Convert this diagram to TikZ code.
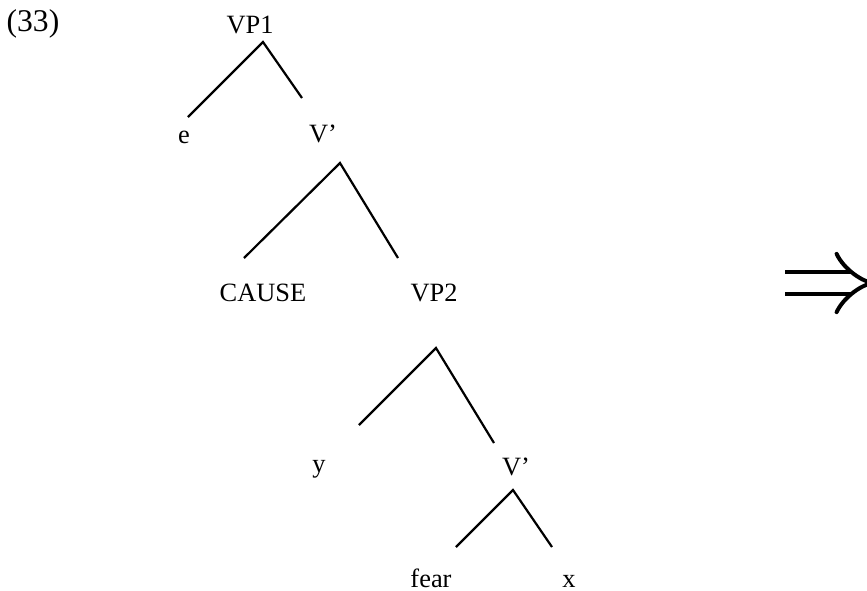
\documentclass[tikz,border=0pt]{standalone}
\usepackage{fontspec}
\setmainfont{Liberation Serif}
\usetikzlibrary{arrows.meta}

\begin{document}
\begin{tikzpicture}[x=0.5pt, y=-0.5pt,
    every node/.style={font=\fontsize{13.2}{16}\selectfont, anchor=base, inner sep=0pt},
    branch/.style={line width=1.1pt}]

  \useasboundingbox (0,0) rectangle (867,590);

  % Define coordinates for labels
  \node[font=\fontsize{15.8}{18}\selectfont] (num) at (33,31) {(33)};
  \node (VPa) at (250,33) {VP1};
  \node (e) at (184,143) {e};
  \node (Va) at (323,142) {V'};
  \node (cause) at (263,301) {CAUSE};
  \node (VPb) at (434,301) {VP2};
  \node (y) at (319,472) {y};
  \node (Vb) at (516,475) {V'};
  \node (fear) at (431,587) {fear};
  \node (x) at (569,587) {x};

  % Define end points of branches
  \coordinate (topa) at (263,42);
  \coordinate (la) at (188,117);
  \coordinate (ra) at (302,98);
  \coordinate (topb) at (340,163);
  \coordinate (lb) at (244,258);
  \coordinate (rb) at (398,258);
  \coordinate (topc) at (436,348);
  \coordinate (lc) at (359,425);
  \coordinate (rc) at (494,443);
  \coordinate (topd) at (513,490);
  \coordinate (ld) at (456,547);
  \coordinate (rd) at (552,547);

  % Draw branches
  \draw[branch] (la) -- (topa) -- (ra);
  \draw[branch] (lb) -- (topb) -- (rb);
  \draw[branch] (lc) -- (topc) -- (rc);
  \draw[branch] (ld) -- (topd) -- (rd);

  % Draw the big arrow
  \coordinate (from) at (785,283);
  \coordinate (to) at (876,283);
  \draw[line width=2pt, double distance=9pt, -{Implies}] (from) -- (to);
\end{tikzpicture}
\end{document}
